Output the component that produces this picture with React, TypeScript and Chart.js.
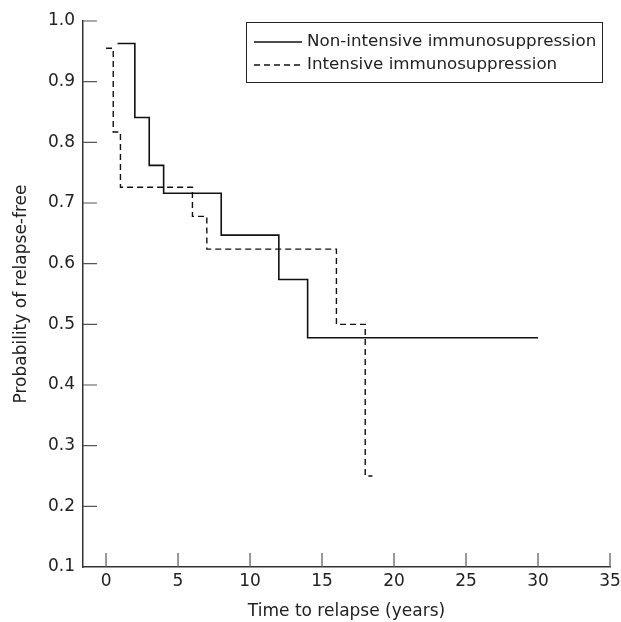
import React, { useEffect, useRef } from "react";
import { Chart, registerables } from "chart.js";

Chart.register(...registerables);

const timesNon = [0.8, 2, 3, 4, 8, 12, 14, 30];
const survNon = [0.963, 0.841, 0.762, 0.716, 0.647, 0.574, 0.478, 0.478];
const timesInt = [0, 0.5, 1, 6, 7, 16, 18, 18.5];
const survInt = [0.955, 0.817, 0.726, 0.678, 0.624, 0.5, 0.25, 0.25];
const seriesLabels = ["Non-intensive immunosuppression", "Intensive immunosuppression"];
const xTicks = [0, 5, 10, 15, 20, 25, 30, 35];
const yTicks = [0.1, 0.2, 0.3, 0.4, 0.5, 0.6, 0.7, 0.8, 0.9, 1.0];

const FONT = "'DejaVu Sans'";
const INK = "#222";

const inwardTicks = {
  id: "inwardTicks",
  afterDraw(chart: any) {
    const ctx = chart.ctx;
    const xs = chart.scales.x;
    const ys = chart.scales.y;
    const area = chart.chartArea;
    ctx.save();
    ctx.strokeStyle = "#555";
    ctx.lineWidth = 1.2;
    ctx.beginPath();
    xTicks.forEach((v) => {
      const px = xs.getPixelForValue(v);
      ctx.moveTo(px, area.bottom);
      ctx.lineTo(px, area.bottom - 14);
    });
    yTicks.forEach((v) => {
      if (v <= 0.1) return;
      const py = ys.getPixelForValue(v);
      ctx.moveTo(area.left, py);
      ctx.lineTo(area.left + 14, py);
    });
    ctx.stroke();
    ctx.restore();
  },
};

const boxLegend = {
  id: "boxLegend",
  afterDraw(chart: any) {
    const ctx = chart.ctx;
    const x0 = 246, y0 = 22, x1 = 602, y1 = 82;
    ctx.save();
    ctx.strokeStyle = "#222";
    ctx.lineWidth = 1;
    ctx.strokeRect(x0 + 0.5, y0 + 0.5, x1 - x0, y1 - y0);
    const rows = [42, 65];
    chart.data.datasets.forEach((ds: any, i: number) => {
      ctx.beginPath();
      ctx.strokeStyle = ds.borderColor;
      ctx.lineWidth = ds.borderWidth;
      ctx.setLineDash(ds.borderDash || []);
      ctx.moveTo(x0 + 8, rows[i]);
      ctx.lineTo(x0 + 56, rows[i]);
      ctx.stroke();
      ctx.setLineDash([]);
      ctx.fillStyle = INK;
      ctx.font = `16.7px ${FONT}`;
      ctx.textBaseline = "middle";
      ctx.textAlign = "left";
      ctx.fillText(ds.label, x0 + 61, rows[i]);
    });
    ctx.restore();
  },
};

export default function App() {
  const ref = useRef<HTMLCanvasElement>(null);
  useEffect(() => {
    document.body.style.margin = "0";
    const chart = new Chart(ref.current!, {
      type: "line",
      data: {
        datasets: [
          {
            label: seriesLabels[0],
            data: timesNon.map((t, i) => ({ x: t, y: survNon[i] })),
            borderColor: "#111",
            borderWidth: 1.6,
            stepped: true,
            pointRadius: 0,
            fill: false,
          },
          {
            label: seriesLabels[1],
            data: timesInt.map((t, i) => ({ x: t, y: survInt[i] })),
            borderColor: "#111",
            borderWidth: 1.4,
            borderDash: [6, 4],
            stepped: true,
            pointRadius: 0,
            fill: false,
          },
        ],
      },
      options: {
        animation: false,
        responsive: false,
        layout: { padding: { left: 0, right: 0, top: 21, bottom: 0 } },
        plugins: { legend: { display: false }, tooltip: { enabled: false } },
        scales: {
          x: {
            type: "linear",
            min: -1.6,
            max: 35,
            afterBuildTicks: (s: any) => {
              s.ticks = xTicks.map((v) => ({ value: v }));
            },
            afterFit: (s: any) => {
              s.height = 55;
              s.paddingRight = 11;
            },
            grid: { display: false, drawTicks: false },
            border: { display: true, color: "#333", width: 1.5 },
            ticks: { color: INK, font: { family: FONT, size: 17 }, padding: 4 },
            title: {
              display: true,
              text: "Time to relapse (years)",
              color: INK,
              font: { family: FONT, size: 17 },
              padding: { top: 7, bottom: 0 },
            },
          },
          y: {
            min: 0.1,
            max: 1.0,
            afterBuildTicks: (s: any) => {
              s.ticks = yTicks.map((v) => ({ value: v }));
            },
            afterFit: (s: any) => {
              s.width = 83;
            },
            grid: { display: false, drawTicks: false },
            border: { display: true, color: "#333", width: 1.5 },
            ticks: {
              color: INK,
              font: { family: FONT, size: 17 },
              padding: 8,
              callback: (v: any) => Number(v).toFixed(1),
            },
            title: {
              display: true,
              text: "Probability of relapse-free",
              color: INK,
              font: { family: FONT, size: 17 },
              padding: { top: 11, bottom: 0 },
            },
          },
        },
      },
      plugins: [inwardTicks, boxLegend],
    });
    return () => chart.destroy();
  }, []);
  return (
    <div style={{ width: 621, height: 622 }}>
      <canvas ref={ref} width={621} height={622} style={{ display: "block" }} />
    </div>
  );
}
